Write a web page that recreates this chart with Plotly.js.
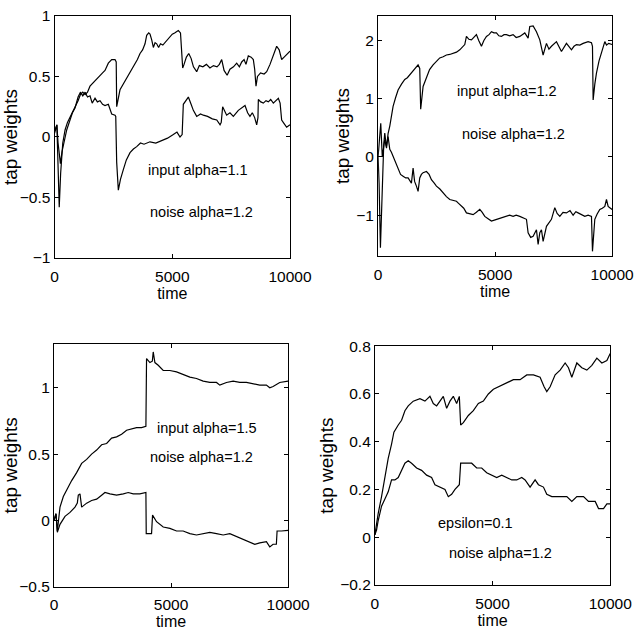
<!DOCTYPE html>
<html>
<head>
<meta charset="utf-8">
<script src="https://cdn.plot.ly/plotly-3.0.1.min.js"></script>
<style>
  html, body { margin: 0; padding: 0; background: #ffffff; }
  #chart { width: 643px; height: 640px; }
</style>
</head>
<body>
<div id="chart"></div>
<script>
// Panel 1: input alpha = 1.1, noise alpha = 1.2
var p1UpperTime = [0,100,200,260,350,450,550,650,750,870,1000,1100,1200,1300,1400,1507,1600,1720,1830,1932,2040,2144,2285,2428,2569,2620,2640,2781,2900,2994,3100,3206,3310,3418,3520,3631,3740,3843,3914,4000,4055,4130,4197,4270,4339,4420,4500,4600,4692,4800,4904,5000,5100,5257,5350,5443,5500,5600,5700,5800,5900,6038,6150,6300,6450,6600,6750,6900,7000,7100,7200,7330,7450,7600,7736,7850,7950,8050,8130,8230,8350,8443,8500,8556,8620,8750,8900,9010,9151,9300,9434,9540,9646,9750,9850,9929,10000];
var p1Upper = [0.03,0.1,-0.58,-0.3,-0.05,0.06,0.12,0.16,0.2,0.24,0.3,0.35,0.37,0.35,0.37,0.42,0.44,0.47,0.49,0.51,0.53,0.55,0.61,0.64,0.64,0.62,0.25,0.39,0.43,0.46,0.49,0.53,0.56,0.6,0.64,0.69,0.72,0.77,0.84,0.86,0.85,0.8,0.74,0.78,0.77,0.74,0.77,0.76,0.78,0.8,0.82,0.85,0.86,0.88,0.86,0.57,0.6,0.66,0.69,0.65,0.58,0.54,0.59,0.58,0.6,0.57,0.59,0.58,0.6,0.64,0.55,0.51,0.56,0.58,0.61,0.58,0.62,0.64,0.6,0.67,0.66,0.64,0.56,0.42,0.5,0.53,0.52,0.54,0.6,0.68,0.75,0.72,0.64,0.66,0.68,0.69,0.71];
var p1LowerTime = [0,100,150,250,320,420,520,658,760,870,1000,1100,1200,1300,1400,1507,1600,1720,1820,1932,2040,2144,2285,2428,2569,2600,2640,2710,2800,2922,3050,3206,3350,3490,3650,3800,4055,4300,4620,4800,5045,5200,5329,5420,5470,5580,5683,5800,5895,6038,6200,6320,6500,6700,6890,7030,7080,7140,7310,7450,7594,7806,7950,8090,8200,8300,8400,8500,8585,8640,8656,8760,8868,8980,9080,9180,9292,9400,9505,9580,9646,9750,9858,10000];
var p1Lower = [0.05,0.1,-0.05,-0.22,-0.12,-0.02,0.06,0.14,0.2,0.24,0.33,0.37,0.34,0.37,0.33,0.34,0.28,0.32,0.29,0.3,0.27,0.26,0.27,0.19,0.18,0.17,-0.21,-0.44,-0.35,-0.27,-0.19,-0.13,-0.1,-0.08,-0.05,-0.06,-0.04,-0.05,-0.02,-0.01,0.02,0.04,0.0,0.02,0.27,0.3,0.33,0.27,0.22,0.17,0.19,0.18,0.17,0.15,0.14,0.1,0.12,0.25,0.18,0.2,0.17,0.22,0.24,0.26,0.2,0.17,0.2,0.16,0.1,0.16,0.31,0.29,0.28,0.3,0.29,0.31,0.28,0.3,0.32,0.28,0.14,0.11,0.08,0.1];

// Panel 2: input alpha = 1.2, noise alpha = 1.2
var p2UpperTime = [0,71,114,180,285,360,427,500,570,641,750,855,1000,1140,1250,1353,1460,1567,1650,1709,1780,1820,1923,2066,2200,2350,2500,2635,2780,2920,3060,3205,3350,3490,3600,3704,3775,3880,3989,4100,4202,4300,4416,4520,4630,4740,4843,4950,5057,5160,5270,5380,5484,5620,5769,5900,6054,6160,6268,6410,6481,6624,6766,6909,7051,7194,7300,7407,7520,7621,7835,7940,8048,8150,8262,8370,8476,8620,8761,8974,9117,9160,9188,9260,9330,9440,9544,9687,9760,9850,10000];
var p2Upper = [0.0,0.47,0.58,0.0,0.3,0.15,0.4,0.53,0.72,0.87,1.02,1.15,1.25,1.33,1.36,1.41,1.45,1.5,1.55,1.58,1.52,0.82,1.21,1.38,1.5,1.58,1.64,1.7,1.72,1.75,1.76,1.78,1.8,1.84,1.88,1.93,2.07,2.02,2.01,2.06,2.1,2.0,1.9,2.0,2.07,2.1,2.15,2.13,2.13,2.08,2.07,2.1,2.1,2.08,2.1,2.05,2.07,2.1,2.13,2.04,2.24,2.25,2.15,2.01,1.75,1.95,1.85,1.9,1.95,1.98,1.81,1.88,1.95,1.9,1.84,1.9,1.93,1.92,1.95,1.98,1.96,1.9,0.98,1.25,1.44,1.65,1.78,1.98,1.92,1.95,1.93];
var p2LowerTime = [0,43,100,185,240,285,356,427,500,570,641,750,855,960,1068,1180,1282,1360,1425,1496,1560,1638,1709,1780,1850,1923,2066,2180,2279,2400,2493,2640,2778,2920,3063,3200,3348,3450,3561,3660,3775,3900,4060,4200,4345,4450,4558,4700,4843,5000,5199,5350,5484,5620,5769,5900,6054,6200,6339,6410,6520,6624,6766,6838,6910,6980,7051,7194,7300,7407,7550,7650,7764,7900,8048,8200,8333,8450,8547,8700,8832,8974,9117,9160,9259,9360,9473,9580,9687,9758,9830,9900,10000];
var p2Lower = [0.0,-0.45,-1.56,-0.45,0.2,0.41,0.18,0.35,0.13,0.08,0.01,-0.1,-0.22,-0.3,-0.33,-0.36,-0.36,-0.4,-0.45,-0.19,-0.42,-0.5,-0.59,-0.36,-0.3,-0.27,-0.25,-0.3,-0.39,-0.45,-0.5,-0.55,-0.62,-0.68,-0.73,-0.74,-0.76,-0.8,-0.85,-0.88,-0.96,-0.97,-0.99,-0.95,-0.9,-0.95,-1.02,-1.06,-1.1,-1.08,-1.05,-1.03,-1.02,-1.0,-1.02,-1.0,-1.02,-1.04,-1.07,-1.3,-1.38,-1.36,-1.25,-1.5,-1.3,-1.25,-1.45,-1.19,-1.12,-1.07,-0.87,-0.97,-1.02,-0.95,-0.96,-0.92,-1.0,-0.94,-0.96,-1.0,-1.02,-1.0,-1.02,-1.62,-1.07,-0.98,-0.9,-0.88,-0.85,-0.73,-0.85,-0.87,-0.9];

// Panel 3: input alpha = 1.5, noise alpha = 1.2
var p3UpperTime = [0,85,142,256,398,540,754,967,1181,1394,1607,1821,2034,2248,2461,2674,2888,3101,3314,3528,3741,3926,3954,4097,4200,4239,4310,4452,4666,4950,5235,5519,5804,6088,6373,6657,6942,7084,7368,7653,7937,8222,8506,8791,9075,9218,9360,9644,10000];
var p3Upper = [0,0.05,-0.08,0.1,0.18,0.23,0.3,0.36,0.43,0.46,0.5,0.53,0.57,0.58,0.62,0.63,0.65,0.68,0.69,0.7,0.7,0.71,1.22,1.19,1.2,1.27,1.19,1.17,1.13,1.13,1.12,1.1,1.08,1.07,1.05,1.04,1.04,1.02,1.04,1.05,1.04,1.04,1.03,1.02,1.02,1.0,1.01,1.04,1.05];
var p3LowerTime = [0,85,142,256,469,683,896,996,1038,1110,1181,1394,1607,1821,2034,2176,2390,2674,2959,3172,3385,3670,3926,3940,4168,4210,4381,4666,4950,5235,5519,5804,6088,6373,6657,6942,7226,7511,7795,8080,8364,8578,8791,9075,9218,9360,9500,9531,9716,10000];
var p3Lower = [0,0.05,-0.09,-0.03,0.03,0.06,0.1,0.13,0.19,0.2,0.1,0.13,0.15,0.16,0.19,0.21,0.2,0.19,0.2,0.21,0.2,0.2,0.21,-0.1,-0.1,0.04,-0.01,-0.05,-0.06,-0.08,-0.08,-0.1,-0.11,-0.1,-0.09,-0.1,-0.11,-0.1,-0.12,-0.14,-0.16,-0.18,-0.17,-0.16,-0.2,-0.18,-0.18,-0.08,-0.08,-0.075];

// Panel 4: epsilon = 0.1, noise alpha = 1.2
var p4UpperTime = [0,71,142,284,426,567,709,809,993,1135,1277,1418,1631,1915,2128,2340,2482,2624,2766,2908,3050,3191,3333,3475,3589,3645,3759,3972,4184,4397,4610,4823,5035,5248,5461,5674,5887,6170,6454,6738,7021,7191,7305,7447,7660,7872,8085,8227,8369,8582,8794,9007,9220,9433,9645,9858,10000];
var p4Upper = [0.01,0.06,0.1,0.17,0.25,0.33,0.39,0.44,0.47,0.49,0.53,0.55,0.57,0.58,0.57,0.59,0.56,0.55,0.57,0.59,0.54,0.57,0.59,0.56,0.59,0.47,0.48,0.51,0.53,0.56,0.57,0.6,0.62,0.63,0.64,0.65,0.66,0.66,0.68,0.68,0.67,0.63,0.61,0.63,0.68,0.7,0.73,0.71,0.67,0.73,0.71,0.7,0.72,0.75,0.73,0.74,0.77];
var p4LowerTime = [0,71,142,284,426,567,709,851,993,1135,1277,1418,1560,1773,1986,2199,2411,2553,2766,2979,3120,3262,3404,3589,3645,3901,4113,4326,4539,4752,4965,5177,5390,5603,5816,6028,6241,6383,6596,6809,6950,7163,7305,7518,7730,7943,8156,8369,8582,8865,9078,9220,9362,9504,9716,9858,10000];
var p4Lower = [0.01,0.03,0.07,0.13,0.16,0.19,0.24,0.24,0.25,0.28,0.31,0.32,0.31,0.29,0.28,0.26,0.25,0.22,0.21,0.2,0.17,0.18,0.2,0.22,0.31,0.31,0.31,0.29,0.29,0.27,0.26,0.25,0.26,0.25,0.24,0.24,0.25,0.24,0.21,0.24,0.22,0.21,0.18,0.17,0.17,0.17,0.17,0.15,0.17,0.17,0.15,0.15,0.15,0.12,0.12,0.14,0.14];

// Axis ticks and panel notes
var timeTicks = [0, 5000, 10000];
var timeTickText = ['0', '5000', '10000'];
var xTitleText = 'time';
var yTitleText = 'tap weights';
var panelNotes = [
  ['input alpha=1.1', 'noise alpha=1.2'],
  ['input alpha=1.2', 'noise alpha=1.2'],
  ['input alpha=1.5', 'noise alpha=1.2'],
  ['epsilon=0.1', 'noise alpha=1.2']
];

var FONT = '"Liberation Sans", Arial, Helvetica, sans-serif';

function series(x, y, n) {
  return {
    x: x, y: y, type: 'scatter', mode: 'lines',
    xaxis: n === 1 ? 'x' : 'x' + n,
    yaxis: n === 1 ? 'y' : 'y' + n,
    line: { color: '#000000', width: 1.2 },
    hoverinfo: 'skip', showlegend: false
  };
}

var data = [
  series(p1UpperTime, p1Upper, 1), series(p1LowerTime, p1Lower, 1),
  series(p2UpperTime, p2Upper, 2), series(p2LowerTime, p2Lower, 2),
  series(p3UpperTime, p3Upper, 3), series(p3LowerTime, p3Lower, 3),
  series(p4UpperTime, p4Upper, 4), series(p4LowerTime, p4Lower, 4)
];

function xAxis(domain, anchor) {
  return {
    domain: domain, anchor: anchor, range: [0, 10000],
    tickmode: 'array', tickvals: timeTicks, ticktext: timeTickText,
    ticks: 'inside', ticklen: 4, tickwidth: 1, tickcolor: '#000',
    ticklabelstandoff: 4,
    showline: true, linecolor: '#000', linewidth: 1, mirror: 'ticks',
    showgrid: false, zeroline: false,
    tickfont: { family: FONT, size: 15.5, color: '#000' },
    title: { text: xTitleText, standoff: 2, font: { family: FONT, size: 16, color: '#000' } }
  };
}

function yAxis(domain, anchor, range, dtick) {
  return {
    domain: domain, anchor: anchor, range: range,
    tick0: 0, dtick: dtick,
    ticks: 'inside', ticklen: 4, tickwidth: 1, tickcolor: '#000',
    showline: true, linecolor: '#000', linewidth: 1, mirror: 'ticks',
    showgrid: false, zeroline: false,
    tickfont: { family: FONT, size: 15.5, color: '#000' },
    title: { text: yTitleText, standoff: 1, font: { family: FONT, size: 19, color: '#000' } }
  };
}

function note(text, x, y, n) {
  return {
    text: text, x: x, y: y,
    xref: n === 1 ? 'x' : 'x' + n,
    yref: n === 1 ? 'y' : 'y' + n,
    showarrow: false, xanchor: 'center', yanchor: 'middle',
    font: { family: FONT, size: 14.5, color: '#000' }
  };
}

var layout = {
  width: 643, height: 640,
  margin: { l: 0, r: 0, t: 0, b: 0 },
  paper_bgcolor: '#ffffff', plot_bgcolor: '#ffffff',
  showlegend: false,
  xaxis: xAxis([0.0848, 0.451], 'y'),
  yaxis: yAxis([0.597, 0.975], 'x', [-1, 1], 0.5),
  xaxis2: xAxis([0.588, 0.952], 'y2'),
  yaxis2: yAxis([0.6, 0.975], 'x2', [-1.7, 2.42], 1),
  xaxis3: xAxis([0.084, 0.448], 'y3'),
  yaxis3: yAxis([0.0833, 0.4625], 'x3', [-0.5, 1.33], 0.5),
  xaxis4: xAxis([0.583, 0.949], 'y4'),
  yaxis4: yAxis([0.086, 0.459], 'x4', [-0.2, 0.8], 0.2),
  annotations: [
    note(panelNotes[0][0], 6093, -0.27, 1),
    note(panelNotes[0][1], 6263, -0.62, 1),
    note(panelNotes[1][0], 5526, 1.14, 2),
    note(panelNotes[1][1], 5783, 0.40, 2),
    note(panelNotes[2][0], 6530, 0.70, 3),
    note(panelNotes[2][1], 6300, 0.477, 3),
    note(panelNotes[3][0], 4255, 0.06, 4),
    note(panelNotes[3][1], 5348, -0.066, 4)
  ]
};

Plotly.newPlot('chart', data, layout, { displayModeBar: false, staticPlot: true });
</script>
</body>
</html>
